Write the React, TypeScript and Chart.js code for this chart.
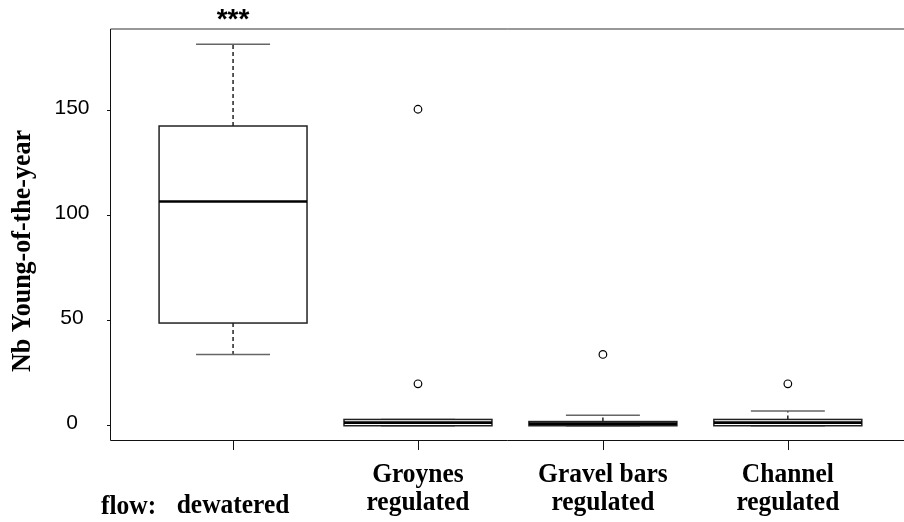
import React, { useEffect, useRef } from "react";
import { Chart, registerables } from "chart.js";

Chart.register(...registerables);

// ---- data ----
const categoryLine1 = ["", "Groynes", "Gravel bars", "Channel"];
const categoryLine2 = ["dewatered", "regulated", "regulated", "regulated"];
const whiskerLow = [34, 0, 0, 0];
const quartile1 = [49, 0, 0, 0];
const medians = [107, 1.5, 1, 1.5];
const quartile3 = [143, 3, 2, 3];
const whiskerHigh = [182, 3, 5, 7];
const outlierGroup = [1, 1, 2, 3];
const outlierValue = [151, 20, 34, 20];
const significance = ["***", "", "", ""];
const yTicks = [0, 50, 100, 150];
const yTitle = "Nb Young-of-the-year";
const flowLabel = "flow:";

const SERIF = "'Liberation Serif', 'Times New Roman', serif";
const SANS = "'Liberation Sans', Arial, sans-serif";

function stretchedText(ctx: any, text: string, x: number, y: number, sy: number) {
  ctx.save();
  ctx.translate(x, y);
  ctx.scale(1, sy);
  ctx.fillText(text, 0, 0);
  ctx.restore();
}

const boxPlugin = {
  id: "boxPlugin",
  beforeDatasetsDraw(chart: any) {
    const { ctx, chartArea } = chart;
    const xs = chart.scales.x;
    const ys = chart.scales.y;
    ctx.save();
    // frame (left, top, bottom)
    ctx.strokeStyle = "#111";
    ctx.lineWidth = 1;
    ctx.beginPath();
    ctx.moveTo(chartArea.left - 0.5, chartArea.top);
    ctx.lineTo(chartArea.left - 0.5, chartArea.bottom - 0.5);
    ctx.lineTo(chartArea.right + 20, chartArea.bottom - 0.5);
    ctx.stroke();
    ctx.strokeStyle = "#333";
    ctx.beginPath();
    ctx.moveTo(chartArea.left - 0.5, chartArea.top);
    ctx.lineTo(chartArea.right + 20, chartArea.top);
    ctx.stroke();

    // y ticks
    ctx.strokeStyle = "#111";
    yTicks.forEach((v) => {
      const y = Math.round(ys.getPixelForValue(v)) - 0.5;
      ctx.beginPath();
      ctx.moveTo(chartArea.left - 4, y);
      ctx.lineTo(chartArea.left, y);
      ctx.stroke();
    });
    // x ticks
    categoryLine2.forEach((_, i) => {
      const x = Math.round(xs.getPixelForValue(i + 1)) + 0.5;
      ctx.beginPath();
      ctx.moveTo(x, chartArea.bottom);
      ctx.lineTo(x, chartArea.bottom + 9);
      ctx.stroke();
    });

    // boxes
    categoryLine2.forEach((_, i) => {
      const c = i + 1;
      const xc = xs.getPixelForValue(c);
      const xl = xs.getPixelForValue(c - 0.4);
      const xr = xs.getPixelForValue(c + 0.4);
      const cl = xs.getPixelForValue(c - 0.2);
      const cr = xs.getPixelForValue(c + 0.2);
      const yLo = ys.getPixelForValue(whiskerLow[i]);
      const yQ1 = ys.getPixelForValue(quartile1[i]);
      const yMed = ys.getPixelForValue(medians[i]);
      const yQ3 = ys.getPixelForValue(quartile3[i]);
      const yHi = ys.getPixelForValue(whiskerHigh[i]);

      // whiskers (dashed)
      ctx.strokeStyle = "#000";
      ctx.lineWidth = 1.3;
      ctx.setLineDash([4, 3]);
      ctx.beginPath();
      if (yHi < yQ3) {
        ctx.moveTo(xc, yQ3);
        ctx.lineTo(xc, yHi);
      }
      if (yLo > yQ1) {
        ctx.moveTo(xc, yQ1);
        ctx.lineTo(xc, yLo);
      }
      ctx.stroke();
      ctx.setLineDash([]);

      // caps
      ctx.strokeStyle = "#666";
      ctx.lineWidth = 1.6;
      ctx.beginPath();
      ctx.moveTo(cl, yHi);
      ctx.lineTo(cr, yHi);
      ctx.moveTo(cl, yLo);
      ctx.lineTo(cr, yLo);
      ctx.stroke();

      // box
      ctx.strokeStyle = "#222";
      ctx.lineWidth = 1.5;
      ctx.fillStyle = "#fff";
      ctx.fillRect(xl, yQ3, xr - xl, yQ1 - yQ3);
      ctx.strokeRect(xl, yQ3, xr - xl, yQ1 - yQ3);

      // median
      ctx.strokeStyle = "#000";
      ctx.lineWidth = 2.6;
      ctx.beginPath();
      ctx.moveTo(xl, yMed);
      ctx.lineTo(xr, yMed);
      ctx.stroke();
    });
    ctx.restore();
  },
  afterDraw(chart: any) {
    const { ctx } = chart;
    const xs = chart.scales.x;
    const ys = chart.scales.y;
    ctx.save();
    ctx.fillStyle = "#000";

    // y tick labels
    ctx.font = `21px ${SANS}`;
    ctx.textAlign = "center";
    ctx.textBaseline = "middle";
    yTicks.forEach((v) => {
      ctx.fillText(String(v), 72, ys.getPixelForValue(v) - 3);
    });

    // y title
    ctx.save();
    ctx.translate(23, 251);
    ctx.rotate(-Math.PI / 2);
    ctx.scale(1, 1.08);
    ctx.font = `bold 26px ${SERIF}`;
    ctx.textAlign = "center";
    ctx.textBaseline = "middle";
    ctx.fillText(yTitle, 0, 0);
    ctx.restore();

    // category labels
    ctx.font = `bold 25.5px ${SERIF}`;
    ctx.textAlign = "center";
    ctx.textBaseline = "alphabetic";
    categoryLine2.forEach((_, i) => {
      const x = xs.getPixelForValue(i + 1);
      if (categoryLine1[i]) {
        stretchedText(ctx, categoryLine1[i], x, 482, 1.1);
        stretchedText(ctx, categoryLine2[i], x, 510, 1.1);
      } else {
        stretchedText(ctx, categoryLine2[i], x, 513, 1.1);
      }
    });
    ctx.textAlign = "left";
    stretchedText(ctx, flowLabel, 101, 514, 1.1);

    // significance
    ctx.font = `bold 28px ${SANS}`;
    ctx.textAlign = "center";
    significance.forEach((s, i) => {
      if (!s) return;
      ctx.fillText(s, xs.getPixelForValue(i + 1), 28);
    });
    ctx.restore();
  },
};

export default function App() {
  const ref = useRef<HTMLCanvasElement | null>(null);
  useEffect(() => {
    document.body.style.margin = "0";
    const canvas = ref.current;
    if (!canvas) return;
    const chart = new Chart(canvas, {
      type: "scatter",
      data: {
        datasets: [
          {
            label: "outliers",
            data: outlierGroup.map((g, k) => ({ x: g + 1, y: outlierValue[k] })),
            pointStyle: "circle",
            pointRadius: 3.8,
            pointBorderWidth: 1.2,
            borderColor: "#000",
            backgroundColor: "rgba(0,0,0,0)",
            pointBackgroundColor: "rgba(0,0,0,0)",
            pointBorderColor: "#000",
          },
        ],
      },
      options: {
        responsive: false,
        animation: false,
        devicePixelRatio: 1,
        layout: { padding: { left: 111, top: 29, right: 0, bottom: 81 } },
        plugins: {
          legend: { display: false },
          tooltip: { enabled: false },
        },
        scales: {
          x: { type: "linear", display: false, min: 0.34, max: 4.6 },
          y: { type: "linear", display: false, min: -7.28, max: 189.28 },
        },
      },
      plugins: [boxPlugin],
    });
    return () => chart.destroy();
  }, []);
  return (
    <div style={{ width: 904, height: 522, background: "#fff" }}>
      <canvas ref={ref} width={904} height={522} style={{ display: "block" }} />
    </div>
  );
}
